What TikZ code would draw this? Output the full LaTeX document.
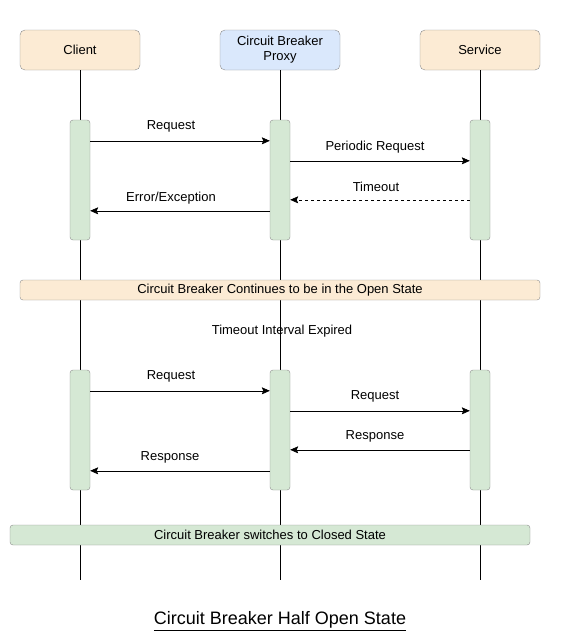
\documentclass[tikz,border=0pt]{standalone}
\usepackage{fontspec}
\setmainfont{Liberation Sans}
\usetikzlibrary{arrows.meta}
\definecolor{boxorange}{HTML}{FCEBD4}
\definecolor{boxblue}{HTML}{DAE8FC}
\definecolor{boxgreen}{HTML}{D5E8D4}
\definecolor{boxline}{HTML}{8C8C8C}
\begin{document}
\begin{tikzpicture}[x=1pt,y=-1pt,
  actor/.style={draw=boxline,rounded corners=5pt,minimum width=120pt,minimum height=40pt,
    align=center,inner sep=0pt,font=\fontsize{13}{15}\selectfont},
  actbar/.style={draw=boxline,fill=boxgreen,rounded corners=3pt,minimum width=20pt,
    minimum height=120pt,inner sep=0pt},
  statebar/.style={draw=boxline,rounded corners=3pt,minimum width=520pt,minimum height=20pt,
    inner sep=0pt,font=\fontsize{13}{15}\selectfont},
  msg/.style={-{Stealth[length=8pt,width=7pt,inset=1.5pt]},line width=0.6pt},
  lbl/.style={font=\fontsize{13}{15}\selectfont,inner sep=0pt}]

\useasboundingbox (0,0) rectangle (561,641); % Page frame

% Participants
\node[actor,fill=boxorange] (client) at (80,50) {Client};
\node[actor,fill=boxblue] (proxy) at (280,50) {Circuit Breaker\\Proxy};
\node[actor,fill=boxorange] (service) at (480,50) {Service};

% Lifelines
\coordinate (clientend) at (80,580);
\coordinate (proxyend) at (280,580);
\coordinate (serviceend) at (480,580);
\draw (client.south) -- (clientend);
\draw (proxy.south) -- (proxyend);
\draw (service.south) -- (serviceend);

% First round - still open
\node[actbar] (cl1) at (80,180) {};
\node[actbar] (px1) at (280,180) {};
\node[actbar] (sv1) at (480,180) {};

\draw[msg] ([yshift=-21pt]cl1.north east) -- ([yshift=-21pt]px1.north west)
  node[lbl,midway,yshift=14pt,xshift=-9pt] {Request};
\draw[msg] ([yshift=-41pt]px1.north east) -- ([yshift=-41pt]sv1.north west)
  node[lbl,midway,yshift=14pt,xshift=-5pt] {Periodic Request};
\draw[msg,dashed] ([yshift=-80pt]sv1.north west) -- ([yshift=-80pt]px1.north east)
  node[lbl,midway,yshift=13pt,xshift=-4pt] {Timeout};
\draw[msg] ([yshift=-91pt]px1.north west) -- ([yshift=-91pt]cl1.north east)
  node[lbl,midway,yshift=13pt,xshift=-9pt] {Error/Exception};

\node[statebar,fill=boxorange] (openstate) at (280,290) {Circuit Breaker Continues to be in the Open State};

\node[lbl] (expired) at (282,331) {Timeout Interval Expired};

% Second round - half open
\node[actbar] (cl2) at (80,430) {};
\node[actbar] (px2) at (280,430) {};
\node[actbar] (sv2) at (480,430) {};

\draw[msg] ([yshift=-21pt]cl2.north east) -- ([yshift=-21pt]px2.north west)
  node[lbl,midway,yshift=14pt,xshift=-9pt] {Request};
\draw[msg] ([yshift=-41pt]px2.north east) -- ([yshift=-41pt]sv2.north west)
  node[lbl,midway,yshift=14pt,xshift=-5pt] {Request};
\draw[msg] ([yshift=-80pt]sv2.north west) -- ([yshift=-80pt]px2.north east)
  node[lbl,midway,yshift=13pt,xshift=-5pt] {Response};
\draw[msg] ([yshift=-101pt]px2.north west) -- ([yshift=-101pt]cl2.north east)
  node[lbl,midway,yshift=13pt,xshift=-10pt] {Response};

\node[statebar,fill=boxgreen] (closedstate) at (270,535) {Circuit Breaker switches to Closed State};

% Caption
\node[font=\fontsize{18}{21}\selectfont,inner sep=0pt] (caption) at (280,621) {\underline{Circuit Breaker Half Open State}};

\end{tikzpicture}
\end{document}
